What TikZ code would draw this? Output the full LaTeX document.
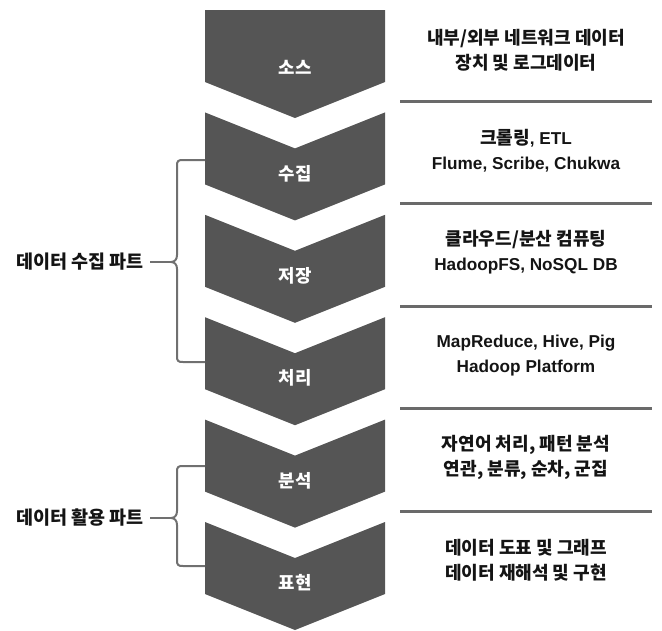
\documentclass[tikz,border=0pt]{standalone}
\usepackage{fontspec}
\setmainfont{Liberation Sans}
\newfontfamily\korfont{Noto Sans CJK KR}[Scale=1.05]
\newcommand\kor[1]{{\korfont #1}}
\definecolor{chev}{HTML}{555555}
\definecolor{rulegray}{HTML}{6A6A6A}
\definecolor{bracegray}{HTML}{707070}
\definecolor{txt}{HTML}{141414}
\tikzset{
  chevron/.style={fill=chev},
  chevlabel/.style={text=white, font=\fontsize{17}{19}\selectfont\bfseries\korfont, inner sep=0pt},
  desc/.style={text=txt, align=center, font=\fontsize{17.2}{25}\selectfont\bfseries, inner sep=0pt},
  partlabel/.style={text=txt, anchor=east, font=\fontsize{17.6}{20}\selectfont\bfseries\korfont, inner sep=0pt},
  sep/.style={draw=rulegray, line width=3pt},
  bracel/.style={draw=bracegray, line width=2pt}
}
\begin{document}
\begin{tikzpicture}[x=1pt,y=-1pt]
\useasboundingbox (0,0) rectangle (662,630);
% chevrons
\foreach \i/\t in {0/소스,1/수집,2/저장,3/처리,4/분석,5/표현}{
  \pgfmathsetmacro\ys{10+102.4*\i}
  \pgfmathsetmacro\nd{\i==0 ? 0 : 36}
  \pgfmathsetmacro\ly{\i==0 ? \ys+57 : \ys+61}
  \fill[chevron] (205,\ys) -- (295,\ys+\nd) -- (385,\ys) -- (385,\ys+72) -- (295,\ys+108) -- (205,\ys+72) -- cycle;
  \node[chevlabel] (c\i) at (295,\ly) {\t};
}
% separators
\foreach \y in {101.5,203.5,306,408.5,511}{
  \draw[sep] (400,\y) -- (652,\y);
}
% descriptions
\node[desc] (r0) at (526,50.5) {\kor{내부/외부 네트워크 데이터}\\\kor{장치 및 로그데이터}};
\node[desc] (r1) at (526,150.5) {\kor{크롤링}, ETL\\Flume, Scribe, Chukwa};
\node[desc] (r2) at (526,252.5) {\kor{클라우드/분산 컴퓨팅}\\HadoopFS, NoSQL DB};
\node[desc] (r3) at (526,355.5) {MapReduce, Hive, Pig\\Hadoop Platform};
\node[desc] (r4) at (526,457.5) {\kor{자연어 처리, 패턴 분석}\\\kor{연관, 분류, 순차, 군집}};
\node[desc] (r5) at (526,560.5) {\kor{데이터 도표 및 그래프}\\\kor{데이터 재해석 및 구현}};
% part labels with braces
\node[partlabel] (p1) at (144,262) {데이터 수집 파트};
\node[partlabel] (p2) at (144,518) {데이터 활용 파트};
\coordinate (t1) at (171,262);
\coordinate (t2) at (171,518);
\draw[bracel] (p1.east) ++(6,0) -- (t1);
\draw[bracel] (p2.east) ++(6,0) -- (t2);
\draw[bracel] (205,160) -- (183,160) .. controls (178,160) and (177,161) .. (177,166) -- (177,255) .. controls (177,259) and (175,262) .. (t1) .. controls (175,262) and (177,265) .. (177,269) -- (177,356) .. controls (177,361) and (178,362) .. (183,362) -- (205,362);
\draw[bracel] (205,466) -- (183,466) .. controls (178,466) and (177,467) .. (177,472) -- (177,511) .. controls (177,515) and (175,518) .. (t2) .. controls (175,518) and (177,521) .. (177,525) -- (177,560) .. controls (177,565) and (178,566) .. (183,566) -- (205,566);
\end{tikzpicture}
\end{document}
